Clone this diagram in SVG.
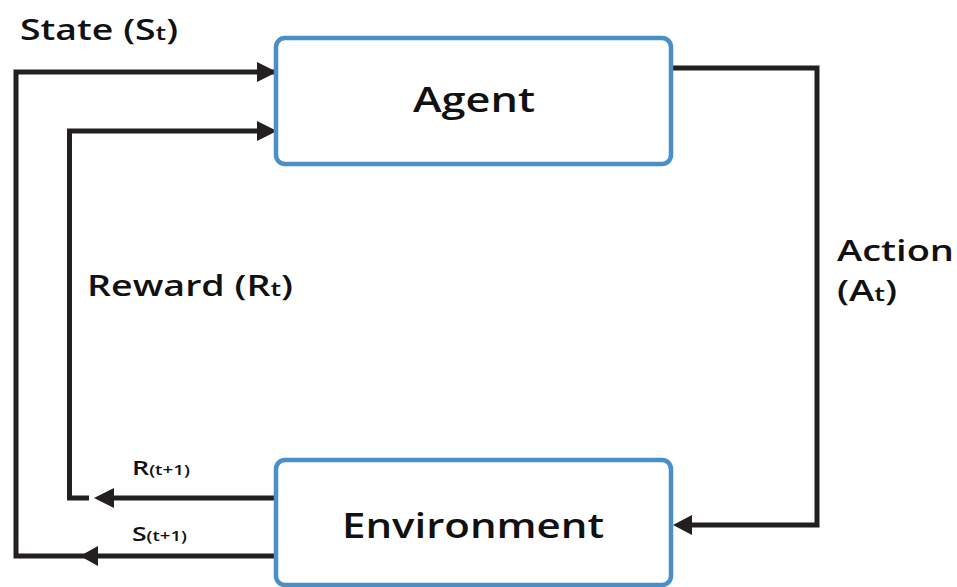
<svg xmlns="http://www.w3.org/2000/svg" width="957" height="587" viewBox="0 0 957 587">
<style>
.box{fill:#fff;stroke:#4a90c8;stroke-width:4.5}
.ln{fill:none;stroke:#231f20;stroke-width:5;stroke-linejoin:miter;stroke-linecap:butt}
.ah{fill:#231f20}
text{font-family:"Open Sans","Liberation Sans",sans-serif;font-weight:600;fill:#111}
.big{font-size:34px}
.lbl{font-size:28px}
.sm{font-size:20px}
</style>
<g id="connectors">
<path class="ln" d="M276,72 H16 V556 H274"/>
<polygon class="ah" points="277,72 257,62 257,82"/>
<path class="ln" d="M263,131 H69.5 V498 H89"/>
<polygon class="ah" points="277,131 257,121 257,141"/>
<path class="ln" d="M113,498 H274"/>
<polygon class="ah" points="94,498 114,488 114,508"/>
<polygon class="ah" points="80,556 98,546 98,566"/>
<path class="ln" d="M672,68 H817 V525 H690"/>
<polygon class="ah" points="673,525 692,515 692,535"/>
</g>
<g id="agent">
<rect class="box" x="276" y="38" width="395" height="126" rx="9"/>
<text class="big" x="474" y="112" text-anchor="middle" textLength="122" lengthAdjust="spacingAndGlyphs">Agent</text>
</g>
<g id="environment">
<rect class="box" x="276" y="460" width="395" height="125" rx="9"/>
<text class="big" x="473" y="538" text-anchor="middle" textLength="262" lengthAdjust="spacingAndGlyphs">Environment</text>
</g>
<g id="labels">
<text class="lbl" x="20" y="40" textLength="158" lengthAdjust="spacingAndGlyphs">State (S<tspan font-size="20">t</tspan>)</text>
<text class="lbl" x="87" y="296" textLength="206" lengthAdjust="spacingAndGlyphs">Reward (R<tspan font-size="20">t</tspan>)</text>
<text class="lbl" x="837" y="261" textLength="117" lengthAdjust="spacingAndGlyphs">Action</text>
<text class="lbl" x="837" y="301" textLength="60" lengthAdjust="spacingAndGlyphs">(A<tspan font-size="20">t</tspan>)</text>
<text class="sm" x="132" y="475" textLength="58" lengthAdjust="spacingAndGlyphs">R<tspan font-size="14">(t+1)</tspan></text>
<text class="sm" x="132" y="541" textLength="55" lengthAdjust="spacingAndGlyphs">S<tspan font-size="14">(t+1)</tspan></text>
</g>
</svg>
